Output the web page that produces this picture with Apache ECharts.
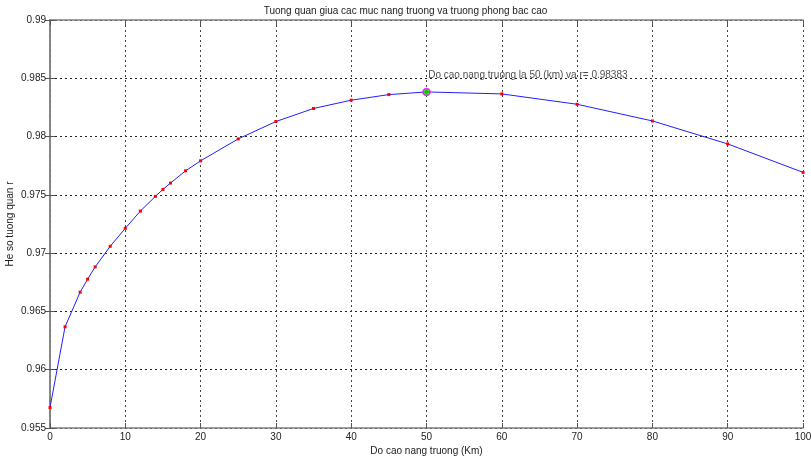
<!DOCTYPE html>
<html>
<head>
<meta charset="utf-8">
<script src="https://cdn.jsdelivr.net/npm/echarts@6/dist/echarts.min.js"></script>
<style>
  html, body { margin: 0; padding: 0; background: #fff; }
  #main { width: 811px; height: 459px; }
</style>
</head>
<body>
<div id="main"></div>
<script>
// do cao nang truong (km)
const heights = [0, 2, 4, 5, 6, 8, 10, 12, 14, 15, 16, 18, 20, 25, 30, 35, 40, 45, 50, 60, 70, 80, 90, 100]
// he so tuong quan r
const corr = [0.95675, 0.96368, 0.96665, 0.96777, 0.96882, 0.97059, 0.97213, 0.97361, 0.97487, 0.97547,
  0.97601, 0.97706, 0.97792, 0.9798, 0.98129, 0.98241, 0.98312, 0.9836, 0.98383, 0.98366,
  0.98277, 0.98134, 0.97937, 0.97693]
const peakX = 50
const peakR = 0.98383
const xTicks = [0, 10, 20, 30, 40, 50, 60, 70, 80, 90, 100]
const yTicks = [0.955, 0.96, 0.965, 0.97, 0.975, 0.98, 0.985, 0.99]

const font = '"Liberation Sans Narrow", "Liberation Sans", Arial, sans-serif'
const chart = echarts.init(document.getElementById('main'))

const boxLine = { show: true, lineStyle: { color: '#7f7f7f', width: 1.5 } }
const tick = { show: true, inside: true, length: 5, lineStyle: { color: '#555' } }

const option = {
  backgroundColor: '#fff',
  animation: false,
  title: {
    text: 'Tuong quan giua cac muc nang truong va truong phong bac cao',
    left: 'center',
    top: 1,
    textStyle: { fontFamily: font, fontSize: 10, fontWeight: 'normal', color: '#222' }
  },
  grid: { left: 50, right: 8, top: 20, bottom: 31, outerBoundsMode: 'none', containLabel: false },
  xAxis: [
    {
      type: 'value',
      min: xTicks[0],
      max: xTicks[xTicks.length - 1],
      interval: 10,
      name: 'Do cao nang truong (Km)',
      nameLocation: 'middle',
      nameGap: 18,
      nameMoveOverlap: false,
      nameTextStyle: { fontFamily: font, fontSize: 10, color: '#222' },
      axisLine: boxLine,
      axisTick: tick,
      axisLabel: { fontFamily: font, fontSize: 10, color: '#222', margin: 4 },
      splitLine: { show: true, lineStyle: { color: '#444', type: [2, 3], width: 1 } }
    },
    {
      type: 'value',
      position: 'top',
      min: xTicks[0],
      max: xTicks[xTicks.length - 1],
      interval: 10,
      axisLine: boxLine,
      axisTick: tick,
      axisLabel: { show: false },
      splitLine: { show: false }
    }
  ],
  yAxis: [
    {
      type: 'value',
      min: yTicks[0],
      max: yTicks[yTicks.length - 1],
      interval: 0.005,
      name: 'He so tuong quan r',
      nameLocation: 'middle',
      nameGap: 35,
      nameMoveOverlap: false,
      nameTextStyle: { fontFamily: font, fontSize: 10, color: '#222' },
      axisLine: boxLine,
      axisTick: tick,
      axisLabel: {
        fontFamily: font,
        fontSize: 10,
        color: '#222',
        margin: 4,
        formatter: v => String(+v.toFixed(3))
      },
      splitLine: { show: true, lineStyle: { color: '#222', type: [2, 3], width: 1 } }
    },
    {
      type: 'value',
      position: 'right',
      min: yTicks[0],
      max: yTicks[yTicks.length - 1],
      interval: 0.005,
      axisLine: boxLine,
      axisTick: tick,
      axisLabel: { show: false },
      splitLine: { show: false }
    }
  ],
  series: [
    {
      name: 'r',
      type: 'line',
      data: heights.map((h, i) => [h, corr[i]]),
      symbol: 'rect',
      symbolSize: 3,
      showAllSymbol: true,
      lineStyle: { color: '#2020ff', width: 1 },
      itemStyle: { color: '#ff0000', borderWidth: 0 },
      z: 3
    },
    {
      name: 'max',
      type: 'scatter',
      data: [[peakX, peakR]],
      symbol: 'circle',
      symbolSize: 7,
      itemStyle: { color: '#00e000', borderColor: '#ff00ff', borderWidth: 1.5 },
      label: {
        show: true,
        position: [6, -17],
        align: 'left',
        fontFamily: font,
        fontSize: 10,
        color: '#222',
        formatter: 'Do cao nang truong la ' + peakX + ' (km) va r= ' + peakR
      },
      z: 4
    }
  ]
}
chart.setOption(option)
</script>
</body>
</html>
